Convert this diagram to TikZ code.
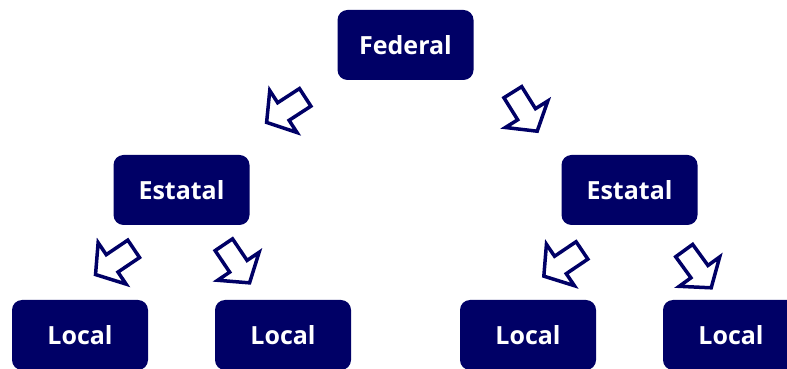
\documentclass[tikz,border=0pt]{standalone}
\usepackage{fontspec}
\setmainfont{Open Sans}
\definecolor{govblue}{HTML}{000066}
\tikzset{
  blockarrow/.pic={
    \draw[govblue, line width=3.5pt, fill=white, sharp corners]
      (-23,10.5) -- (3,10.5) -- (3,25) -- (23,0) -- (3,-25) -- (3,-10.5) -- (-23,-10.5) -- cycle;
  }
}
\begin{document}
\begin{tikzpicture}[x=1pt, y=1pt,
  every node/.style = {shape=rectangle, rounded corners=10pt, fill=govblue, text=white,
    minimum width=136pt, minimum height=70pt, font=\fontsize{25}{30}\selectfont\bfseries,
    },
    level distance=145pt,
    level 1/.style={sibling distance=448pt},
    level 2/.style={sibling distance=203pt, xshift=-2pt},
    edge from parent/.style={draw=none}]

  \useasboundingbox (0,0) rectangle (787,369);

  \node (federal) at (405.5,324) {Federal}
    child { node (estatalA) {Estatal}
      child { node (localA) {Local}}
      child { node (localB) {Local}}}
    child { node (estatalB) {Estatal}
      child { node (localC) {Local}}
      child { node (localD) {Local}}};

  % block arrows between the levels
  \pic[rotate=213] at (285.9,259.1) {blockarrow};
  \pic[rotate=-58] at (525,257.3) {blockarrow};
  \pic[rotate=214] at (114.6,107.3) {blockarrow};
  \pic[rotate=-56] at (236.7,105.2) {blockarrow};
  \pic[rotate=214] at (562.9,105.7) {blockarrow};
  \pic[rotate=-54] at (697.7,99.8) {blockarrow};

\end{tikzpicture}
\end{document}
